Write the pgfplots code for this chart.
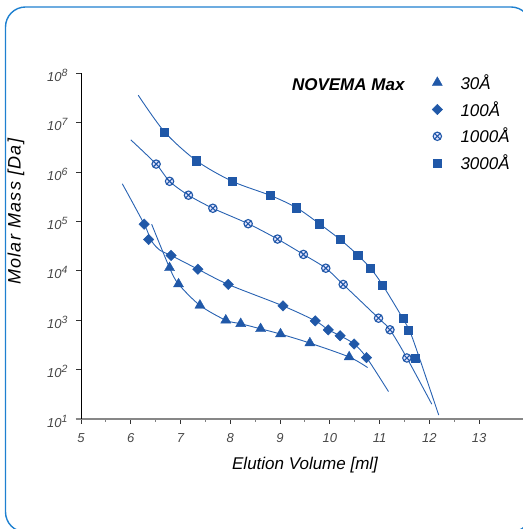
\documentclass[border=0pt]{standalone}
\usepackage{pgfplots}
\pgfplotsset{compat=1.18}
\usepackage{fontspec}
\setmainfont{Liberation Sans}
\newfontfamily\spacedfont[LetterSpace=7]{Liberation Sans}
\definecolor{mblue}{RGB}{32,88,168}
\definecolor{lblue}{RGB}{40,98,178}
\definecolor{framec}{RGB}{30,128,208}
\definecolor{axgray}{RGB}{135,135,135}
\newcommand{\tl}[1]{10\raisebox{5pt}{\fontsize{10.5}{10}\selectfont #1}}
\begin{document}
\begin{tikzpicture}[x=1pt,y=1pt]
\path[use as bounding box] (0,0) rectangle (522,529);
\draw[framec, line width=1.4pt, rounded corners=20pt] (5.5,-3) rectangle (531,522);
\begin{axis}[
  at={(81pt,110pt)}, anchor=south west,
  scale only axis, width=442.8pt, height=345.7pt,
  xmin=5, xmax=13.9, ymode=log, log basis y=10, ymin=10, ymax=1e8,
  axis x line*=bottom, axis y line*=left,
  x axis line style={draw=axgray, line width=1.8pt},
  y axis line style={draw=black, line width=1pt},
  xtick={5,6,...,13}, minor x tick num=1,
  ytick={10,100,1000,1e4,1e5,1e6,1e7,1e8},
  yticklabels={\tl{1},\tl{2},\tl{3},\tl{4},\tl{5},\tl{6},\tl{7},\tl{8}},
  tick align=outside,
  major tick length=5pt, minor tick length=3pt,
  every tick/.style={black!80, line width=0.8pt},
  every minor tick/.style={gray, line width=0.8pt},
  /pgf/number format/assume math mode=true,
  xticklabel style={font=\itshape\fontsize{13}{13}\selectfont, text=black!72, yshift=-6pt},
  yticklabel style={font=\itshape\fontsize{13}{13}\selectfont, text=black!72, xshift=-5pt, yshift=-2pt},
  xlabel={Elution Volume [ml]},
  ylabel={Molar Mass [Da]},
  xlabel style={at={(axis description cs:0.506,-0.134)}, anchor=center, font=\itshape\fontsize{17}{17}\selectfont},
  ylabel style={at={(axis description cs:-0.147,0.599)}, anchor=center, font=\spacedfont\itshape\fontsize{18}{18}\selectfont},
  legend style={at={(axis description cs:0.788,1.003)}, anchor=north west, draw=none, fill=none,
    font=\itshape\fontsize{17}{17}\selectfont, row sep=6.5pt, inner sep=0pt},
  legend cell align=left,
  legend image code/.code={\draw[#1] plot coordinates {(0pt,0pt)}; \path (-7pt,0pt) (21pt,0pt);},
  clip=false,
]
% fitted curves
\addplot[lblue, line width=0.9pt, smooth, forget plot] coordinates {
(6.42,8.8e4) (6.78,1.15e4) (6.96,5.4e3) (7.39,2.0e3) (7.91,1.0e3) (8.21,850) (8.61,670) (9.01,525) (9.60,345) (10.39,180) (10.76,110)};
\addplot[lblue, line width=0.9pt, smooth, forget plot] coordinates {
(5.83,5.8e5) (6.27,8.8e4) (6.42,4.0e4) (6.59,2.6e4) (6.81,2.05e4) (7.35,1.08e4) (7.96,5.3e3) (9.06,1.95e3) (9.71,970) (9.97,640) (10.21,485) (10.49,330) (10.74,175) (11.18,36)};
\addplot[lblue, line width=0.9pt, smooth, forget plot] coordinates {
(6.00,4.5e6) (6.51,1.45e6) (6.78,6.5e5) (7.16,3.4e5) (7.65,1.85e5) (8.36,9.0e4) (8.95,4.4e4) (9.47,2.15e4) (9.92,1.13e4) (10.27,5.3e3) (10.98,1.1e3) (11.21,640) (11.55,172) (12.05,20)};
\addplot[lblue, line width=0.9pt, smooth, forget plot] coordinates {
(6.15,3.6e7) (6.68,6.5e6) (7.32,1.7e6) (8.04,6.5e5) (8.81,3.35e5) (9.33,1.9e5) (9.79,9.0e4) (10.21,4.3e4) (10.56,2.1e4) (10.82,1.12e4) (11.06,5.2e3) (11.47,1.08e3) (11.62,560) (11.80,174) (12.19,12)};
% data points
\addplot[only marks, mark=triangle*, mark size=5.8pt, mark options={draw=mblue, fill=mblue}] coordinates {
(6.78,1.15e4) (6.96,5.4e3) (7.39,2.0e3) (7.91,1.0e3) (8.21,850) (8.61,670) (9.01,525) (9.60,345) (10.39,180)};
\addlegendentry{30Å}
\addplot[only marks, mark=square*, mark size=3.7pt, mark options={draw=mblue, fill=mblue, rotate=45}] coordinates {
(6.27,8.8e4) (6.36,4.3e4) (6.81,2.05e4) (7.35,1.08e4) (7.96,5.3e3) (9.06,1.95e3) (9.71,970) (9.97,640) (10.21,485) (10.49,330) (10.74,175)};
\addlegendentry{100Å}
\addplot[only marks, mark=otimes*, mark size=4.2pt, mark options={draw=mblue, fill=blue!10, line width=1.1pt}] coordinates {
(6.51,1.45e6) (6.78,6.5e5) (7.16,3.4e5) (7.65,1.85e5) (8.36,9.0e4) (8.95,4.4e4) (9.47,2.15e4) (9.92,1.13e4) (10.27,5.3e3) (10.98,1.1e3) (11.21,640) (11.55,172)};
\addlegendentry{1000Å}
\addplot[only marks, mark=square*, mark size=4.1pt, mark options={draw=mblue, fill=mblue}] coordinates {
(6.68,6.5e6) (7.32,1.7e6) (8.04,6.5e5) (8.81,3.35e5) (9.33,1.9e5) (9.79,9.0e4) (10.21,4.3e4) (10.56,2.1e4) (10.82,1.12e4) (11.06,5.2e3) (11.47,1.08e3) (11.57,630) (11.72,172)};
\addlegendentry{3000Å}
\node[anchor=east, font=\bfseries\itshape\fontsize{17}{17}\selectfont] at (axis description cs:0.7385,0.966) {NOVEMA Max};
\draw[axgray, line width=1.8pt] (axis description cs:-0.012,0) -- (axis description cs:0,0);
\end{axis}
\end{tikzpicture}
\end{document}
